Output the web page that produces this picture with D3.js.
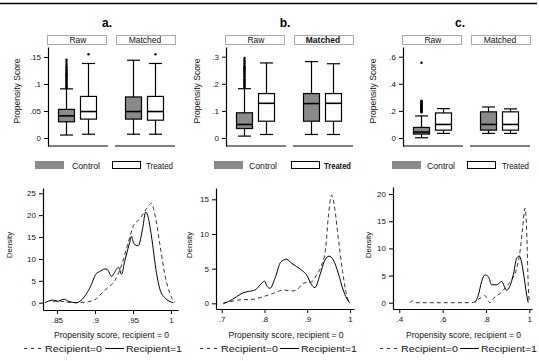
<!DOCTYPE html>
<html>
<head>
<meta charset="utf-8">
<script src="https://cdn.jsdelivr.net/npm/d3@7"></script>
<style>
body { margin: 0; background: #fff; }
svg { display: block; font-family: "Liberation Sans", Arial, sans-serif; }
</style>
</head>
<body>
<svg id="chart" width="539" height="361"></svg>
<script>
'use strict';

// labels
var panelTitles = ['a.', 'b.', 'c.'];
var facetNames = ['Raw', 'Matched'];
var groupNames = ['Control', 'Treated'];
var densityNames = ['Recipient=0', 'Recipient=1'];
var xTitle = 'Propensity score, recipient = 0';

// box stats: [lower whisker, q1, median, q3, upper whisker]
var aRawControl = [0.0055, 0.030, 0.041, 0.053, 0.091];
var aRawTreated = [0.007, 0.035, 0.049, 0.077, 0.138];
var aMatchedControl = [0.007, 0.035, 0.049, 0.076, 0.144];
var aMatchedTreated = [0.007, 0.033, 0.049, 0.077, 0.138];
var bRawControl = [0.007, 0.035, 0.050, 0.093, 0.182];
var bRawTreated = [0.013, 0.062, 0.128, 0.164, 0.277];
var bMatchedControl = [0.013, 0.062, 0.127, 0.164, 0.282];
var bMatchedTreated = [0.013, 0.062, 0.128, 0.164, 0.274];
var cRawControl = [0.002, 0.029, 0.044, 0.078, 0.163];
var cRawTreated = [0.034, 0.058, 0.100, 0.185, 0.217];
var cMatchedControl = [0.034, 0.058, 0.100, 0.193, 0.229];
var cMatchedTreated = [0.034, 0.058, 0.100, 0.193, 0.215];

// outside values
var aRawControlOut = [0.092, 0.094, 0.096, 0.098, 0.100, 0.102, 0.104, 0.106, 0.108, 0.110, 0.112, 0.114,
	0.116, 0.118, 0.120, 0.122, 0.124, 0.126, 0.128, 0.131, 0.134, 0.137, 0.141, 0.145];
var aRawTreatedOut = [0.155];
var aMatchedControlOut = [];
var aMatchedTreatedOut = [0.155];
var bRawControlOut = [0.185, 0.189, 0.193, 0.197, 0.201, 0.205, 0.209, 0.213, 0.217, 0.221, 0.225, 0.229,
	0.233, 0.237, 0.241, 0.245, 0.249, 0.253, 0.257, 0.261, 0.265, 0.270, 0.276, 0.282, 0.288, 0.295];
var bRawTreatedOut = [];
var bMatchedControlOut = [];
var bMatchedTreatedOut = [];
var cRawControlOut = [0.190, 0.195, 0.200, 0.205, 0.210, 0.215, 0.220, 0.225, 0.230, 0.235, 0.240, 0.245,
	0.250, 0.255, 0.260, 0.265, 0.270, 0.275, 0.555];
var cRawTreatedOut = [];
var cMatchedControlOut = [];
var cMatchedTreatedOut = [];

// box plot y ticks
var aBoxTicks = [0, 0.05, 0.1, 0.15];
var bBoxTicks = [0, 0.1, 0.2, 0.3];
var cBoxTicks = [0, 0.2, 0.4, 0.6];

// density curves: [propensity score, density]
var aRecip0 = [[0.845, 0.15], [0.85, 0.5], [0.86, 0.2], [0.876, 0], [0.887, 0.1], [0.90, 0.7], [0.909, 2.2],
	[0.916, 3.3], [0.926, 5.0], [0.935, 8.6], [0.944, 13.9], [0.95, 17.3], [0.959, 19.2], [0.968, 21.5],
	[0.974, 22.7], [0.979, 20.0], [0.9855, 13.2], [0.992, 6.3], [0.999, 1.9], [1.005, 0]];
var aRecip1 = [[0.834, 0], [0.845, 0.6], [0.85, 0.3], [0.8596, 0.8], [0.864, 0.4], [0.876, 0], [0.880, 0.3],
	[0.893, 3.3], [0.902, 6.7], [0.906, 7.1], [0.913, 7.7], [0.916, 7.6], [0.922, 6.0], [0.925, 6.7],
	[0.931, 8.1], [0.935, 6.5], [0.939, 9.4], [0.946, 14.0], [0.948, 15.2], [0.951, 13.5], [0.957, 13.0],
	[0.9627, 17], [0.9667, 20.7], [0.970, 19.5], [0.974, 15.5], [0.981, 6.7], [0.9855, 3.0], [0.992, 1.1],
	[1.003, 0]];
var bRecip0 = [[0.704, 0], [0.727, 0.34], [0.743, 0.5], [0.774, 0.58], [0.797, 0.96], [0.821, 1.44],
	[0.844, 1.92], [0.8635, 1.78], [0.875, 1.92], [0.891, 2.9], [0.910, 3.1], [0.922, 4.1], [0.9336, 5.5],
	[0.943, 7.9], [0.949, 12.3], [0.957, 15.6], [0.963, 14.2], [0.9726, 9.4], [0.9827, 4.57], [0.992, 1.2],
	[1.0, 0]];
var bRecip1 = [[0.704, 0], [0.7156, 0.24], [0.735, 0.96], [0.7506, 1.54], [0.762, 1.7], [0.778, 1.92],
	[0.7935, 2.9], [0.80, 3.2], [0.8067, 2.4], [0.813, 2.16], [0.8246, 3.6], [0.8386, 6.0], [0.852, 6.35],
	[0.8635, 5.77], [0.875, 5.3], [0.891, 4.57], [0.8986, 4.1], [0.908, 2.9], [0.918, 2.26], [0.9297, 4.1],
	[0.9414, 6.25], [0.9508, 6.8], [0.961, 6.25], [0.9726, 4.33], [0.984, 1.92], [0.992, 0.72], [1.0, 0]];
var cRecip0 = [[0.449, 0], [0.46, 0.3], [0.47, 0], [0.734, 0], [0.772, 0.8], [0.795, 1.3], [0.818, 0],
	[0.8415, 1.1], [0.865, 1.7], [0.895, 3.0], [0.918, 4.2], [0.9415, 6.3], [0.957, 9.4], [0.969, 13.7],
	[0.98, 17.4], [0.988, 13.1], [0.995, 3.3], [1.0, 0]];
var cRecip1 = [[0.749, 0], [0.765, 1.4], [0.78, 3.9], [0.795, 5.1], [0.811, 4.8], [0.826, 3.3], [0.849, 3.3],
	[0.872, 3.9], [0.895, 2.3], [0.918, 3.9], [0.929, 5.7], [0.9415, 8.2], [0.954, 8.6], [0.972, 5.7],
	[0.988, 1.4], [0.995, 0]];

// density axis ticks
var aDensX = [0.85, 0.9, 0.95, 1];
var aDensY = [0, 5, 10, 15, 20, 25];
var bDensX = [0.7, 0.8, 0.9, 1];
var bDensY = [0, 5, 10, 15];
var cDensX = [0.4, 0.6, 0.8, 1];
var cDensY = [0, 5, 10, 15, 20];

var panels = [
	{
		title: panelTitles[0], cx: 107, axisX: 48, boxDomain: [-0.0148, 0.1685], boxTicks: aBoxTicks,
		boxes: [[aRawControl, aRawTreated], [aMatchedControl, aMatchedTreated]],
		outs: [[aRawControlOut, aRawTreatedOut], [aMatchedControlOut, aMatchedTreatedOut]],
		legX: 35, legX2: 112, legTx: 72, legTx2: 146, yTitleX: 20, bold: false,
		dX0: 43, dX1: 178, dY0: 310, dY1: 188, dxDomain: [0.8316, 1.0092], dyDomain: [-1.67, 26.2],
		dxTicks: aDensX, dyTicks: aDensY, curves: [aRecip0, aRecip1], dTitleX: 12, dLegX: 24, dLegX2: 105
	},
	{
		title: panelTitles[1], cx: 285, axisX: 226, boxDomain: [-0.0295, 0.3358], boxTicks: bBoxTicks,
		boxes: [[bRawControl, bRawTreated], [bMatchedControl, bMatchedTreated]],
		outs: [[bRawControlOut, bRawTreatedOut], [bMatchedControlOut, bMatchedTreatedOut]],
		legX: 214, legX2: 291, legTx: 249, legTx2: 324, yTitleX: 200, bold: true,
		dX0: 216, dX1: 354, dY0: 309, dY1: 188, dxDomain: [0.6867, 1.0093], dyDomain: [-0.82, 16.63],
		dxTicks: bDensX, dyTicks: bDensY, curves: [bRecip0, bRecip1], dTitleX: 192, dLegX: 200, dLegX2: 280
	},
	{
		title: panelTitles[2], cx: 460, axisX: 403, boxDomain: [-0.059, 0.6716], boxTicks: cBoxTicks,
		boxes: [[cRawControl, cRawTreated], [cMatchedControl, cMatchedTreated]],
		outs: [[cRawControlOut, cRawTreatedOut], [cMatchedControlOut, cMatchedTreatedOut]],
		legX: 392, legX2: 467, legTx: 427, legTx2: 502, yTitleX: 376, bold: false,
		dX0: 393, dX1: 532, dY0: 309, dY1: 187, dxDomain: [0.371, 1.0124], dyDomain: [-1.16, 21.3],
		dxTicks: cDensX, dyTicks: cDensY, curves: [cRecip0, cRecip1], dTitleX: 371, dLegX: 380, dLegX2: 460
	}
];

var fills = ['#8a8a8a', '#fff'];

// format .05 / .1 / 1 like the original
var fmt = function(d) {
	if (d === 0) return '0';
	return d3.format('~g')(d).replace(/^0\./, '.');
};

var svg = d3.select('#chart');

// frame line on top
svg.append('line')
	.attr('x1', 0).attr('x2', 537).attr('y1', 3.5).attr('y2', 3.5)
	.attr('stroke', '#000').attr('stroke-width', 1.3);

var styleAxis = function(g) {
	g.selectAll('path.domain').attr('stroke', '#000').attr('stroke-width', 1.2);
	g.selectAll('.tick line').attr('stroke', '#000').attr('stroke-width', 1);
	g.selectAll('.tick text').attr('fill', '#111').style('font-size', '8px').style('font-family', null);
};

// text helper, optional fixed width
var label = function(g, x, y, str, size, len, anchor) {
	var t = g.append('text')
		.attr('x', x).attr('y', y)
		.attr('text-anchor', anchor || 'start')
		.attr('fill', '#111')
		.style('font-size', size + 'px')
		.text(str);
	if (len) t.attr('textLength', len).attr('lengthAdjust', 'spacingAndGlyphs');
	return t;
};

var drawBox = function(g, x, y, stats, fill) {
	var w = 16, cap = 13;
	g.append('line')
		.attr('x1', x).attr('x2', x).attr('y1', y(stats[0])).attr('y2', y(stats[1]))
		.attr('stroke', '#000').attr('stroke-width', 1.2);
	g.append('line')
		.attr('x1', x).attr('x2', x).attr('y1', y(stats[3])).attr('y2', y(stats[4]))
		.attr('stroke', '#000').attr('stroke-width', 1.2);
	[stats[0], stats[4]].forEach(function(v) {
		g.append('line')
			.attr('x1', x - cap / 2).attr('x2', x + cap / 2).attr('y1', y(v)).attr('y2', y(v))
			.attr('stroke', '#000').attr('stroke-width', 1.2);
	});
	g.append('rect')
		.attr('x', x - w / 2).attr('width', w)
		.attr('y', y(stats[3])).attr('height', y(stats[1]) - y(stats[3]))
		.attr('fill', fill).attr('stroke', '#000').attr('stroke-width', 1.2);
	g.append('line')
		.attr('x1', x - w / 2).attr('x2', x + w / 2).attr('y1', y(stats[2])).attr('y2', y(stats[2]))
		.attr('stroke', '#000').attr('stroke-width', 1.6);
};

panels.forEach(function(p) {
	var g = svg.append('g');

	// title
	g.append('text')
		.attr('x', p.cx).attr('y', 27)
		.attr('text-anchor', 'middle')
		.style('font-size', '12px').style('font-weight', 'bold')
		.text(p.title);

	// ---- box plots ----
	var y = d3.scaleLinear().domain(p.boxDomain).range([146, 47]);

	g.append('g')
		.attr('transform', 'translate(' + p.axisX + ',0)')
		.call(d3.axisLeft(y).tickValues(p.boxTicks).tickFormat(fmt).tickSize(4).tickSizeOuter(0))
		.call(styleAxis);

	label(g, 0, 0, 'Propensity Score', 8.5, 65, 'middle')
		.attr('transform', 'translate(' + p.yTitleX + ',91) rotate(-90)');

	facetNames.forEach(function(name, fi) {
		var left = p.axisX + fi * 67;
		var x = d3.scalePoint().domain(groupNames).range([left + 18.5, left + 40.5]);

		// strip label
		g.append('rect')
			.attr('x', left + (fi === 0 ? -0.5 : 1.5)).attr('y', 35.5)
			.attr('width', 59).attr('height', 9)
			.attr('fill', '#fff').attr('stroke', '#a8a8a8').attr('stroke-width', 1);
		label(g, left + 30, 43, name, 8.5, null, 'middle')
			.style('font-weight', p.bold && fi === 1 ? 'bold' : null);

		// bottom line of the facet
		g.append('line')
			.attr('x1', left).attr('x2', left + 60).attr('y1', 146).attr('y2', 146)
			.attr('stroke', '#000').attr('stroke-width', 1.2);

		groupNames.forEach(function(gn, gi) {
			drawBox(g, x(gn), y, p.boxes[fi][gi], fills[gi]);
			g.selectAll(null)
				.data(p.outs[fi][gi])
				.enter()
				.append('circle')
				.attr('cx', x(gn)).attr('cy', function(d) { return y(d); })
				.attr('r', 1.2).attr('fill', '#000');
		});
	});

	// box legend
	[p.legX, p.legX2].forEach(function(lx, i) {
		g.append('rect')
			.attr('x', lx + 0.5).attr('y', 161.5).attr('width', 28).attr('height', 7)
			.attr('fill', fills[i]).attr('stroke', i === 0 ? fills[0] : '#000').attr('stroke-width', 1);
	});
	label(g, p.legTx, 169, groupNames[0], 9, 28);
	label(g, p.legTx2, 169, groupNames[1], 9, 27)
		.style('font-weight', p.bold ? 'bold' : null);

	// ---- density plots ----
	var dx = d3.scaleLinear().domain(p.dxDomain).range([p.dX0, p.dX1]);
	var dy = d3.scaleLinear().domain(p.dyDomain).range([p.dY0, p.dY1]);

	g.append('g')
		.attr('transform', 'translate(0,' + p.dY0 + ')')
		.call(d3.axisBottom(dx).tickValues(p.dxTicks).tickFormat(fmt).tickSize(4).tickSizeOuter(0))
		.call(styleAxis);
	g.append('g')
		.attr('transform', 'translate(' + p.dX0 + ',0)')
		.call(d3.axisLeft(dy).tickValues(p.dyTicks).tickFormat(fmt).tickSize(4).tickSizeOuter(0))
		.call(styleAxis);

	label(g, 0, 0, 'Density', 8, null, 'middle')
		.attr('transform', 'translate(' + p.dTitleX + ',245) rotate(-90)');

	label(g, (p.dX0 + p.dX1) / 2 + 1, 337.5, xTitle, 8.5, 115, 'middle');

	var line = d3.line()
		.x(function(d) { return dx(d[0]); })
		.y(function(d) { return dy(d[1]); })
		.curve(d3.curveMonotoneX);

	g.append('path')
		.datum(p.curves[0])
		.attr('d', line)
		.attr('fill', 'none').attr('stroke', '#333').attr('stroke-width', 1)
		.attr('stroke-dasharray', '4,3');
	g.append('path')
		.datum(p.curves[1])
		.attr('d', line)
		.attr('fill', 'none').attr('stroke', '#000').attr('stroke-width', 1);

	// density legend
	g.append('line')
		.attr('x1', p.dLegX).attr('x2', p.dLegX + 20).attr('y1', 348.5).attr('y2', 348.5)
		.attr('stroke', '#333').attr('stroke-width', 1).attr('stroke-dasharray', '3,4');
	label(g, p.dLegX + 21, 352, densityNames[0], 9, 57);
	g.append('line')
		.attr('x1', p.dLegX2).attr('x2', p.dLegX2 + 19).attr('y1', 348.5).attr('y2', 348.5)
		.attr('stroke', '#000').attr('stroke-width', 1);
	label(g, p.dLegX2 + 21, 352, densityNames[1], 9, 56);
});
</script>
</body>
</html>
